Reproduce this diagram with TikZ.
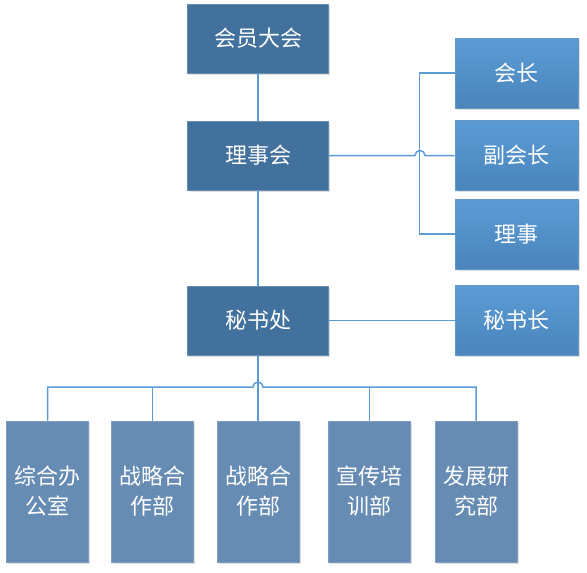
\documentclass[tikz,border=0pt]{standalone}
\usepackage{xcolor}
\usepackage{fontspec}
\usepackage{tikz}
\usetikzlibrary{positioning,shadows}
\newfontfamily\cjk{Noto Sans CJK SC}
\definecolor{topblue}{HTML}{41719C}
\definecolor{sideblue}{HTML}{5B9BD5}
\definecolor{sidedark}{HTML}{4A85BC}
\definecolor{deptblue}{HTML}{678CB4}
\definecolor{linkblue}{HTML}{5B9BD5}
\tikzset{
  x=1pt, y=-1pt,
  box/.style={font=\cjk\fontsize{22}{30}\selectfont, text=white, inner sep=0pt,
    drop shadow={opacity=0.25, shadow xshift=1.5pt, shadow yshift=-1.5pt}},
  mainbox/.style={box, fill=topblue, draw=topblue!80!white, line width=0.6pt,
    minimum width=141pt, minimum height=69pt},
  sidebox/.style={box, top color=sideblue, bottom color=sidedark, draw=sidedark!85!white,
    line width=0.6pt, minimum width=123pt, minimum height=70pt},
  deptbox/.style={box, fill=deptblue, draw=deptblue!85!white, line width=0.6pt,
    minimum width=82pt, minimum height=141pt, align=center, text width=76pt},
  link/.style={draw=linkblue, line width=1.5pt}
}

\begin{document}
\begin{tikzpicture}
    \useasboundingbox (0,0) rectangle (587,573);
    \node[mainbox] (dahui) at (258,38.5) {会员大会};
    \node[mainbox] (lishihui) at (258,155.5) {理事会};
    \node[mainbox] (mishuchu) at (258,320.5) {秘书处};
    \node[sidebox] (huizhang) at (516.5,73) {会长};
    \node[sidebox] (fuhuizhang) at (516.5,155.5) {副会长};
    \node[sidebox] (lishi) at (516.5,234) {理事};
    \node[sidebox] (mishuzhang) at (516.5,320.5) {秘书长};
    \node[deptbox] (zonghe) at (47.5,491.5) {综合办\\公室};
    \node[deptbox] (zhanlueA) at (152.5,491.5) {战略合\\作部};
    \node[deptbox] (zhanlueB) at (258,491.5) {战略合\\作部};
    \node[deptbox] (xuanchuan) at (369.5,491.5) {宣传培\\训部};
    \node[deptbox] (fazhan) at (476,491.5) {发展研\\究部};
    \coordinate (hopA) at (415,155.5);
    \coordinate (hopB) at (253,387);
    \draw[link] (dahui) -- (lishihui);
    \draw[link] (lishihui) -- (mishuchu);
    \draw[link] (huizhang.west) -- ++(-35,0) |- (lishi.west);
    \draw[link] (lishihui.east) -- (hopA) arc[start angle=180, end angle=0, radius=5pt] -- (fuhuizhang.west);
    \draw[link] (mishuchu) -- (mishuzhang);
    \draw[link] (mishuchu.south) -- (zhanlueB.north);
    \draw[link] (zonghe.north) |- (hopB) arc[start angle=180, end angle=0, radius=5pt] -| (fazhan.north);
    \draw[link] (zhanlueA.north) -- (zhanlueA.north |- hopB);
    \draw[link] (xuanchuan.north) -- (xuanchuan.north |- hopB);
  \end{tikzpicture}
\end{document}
